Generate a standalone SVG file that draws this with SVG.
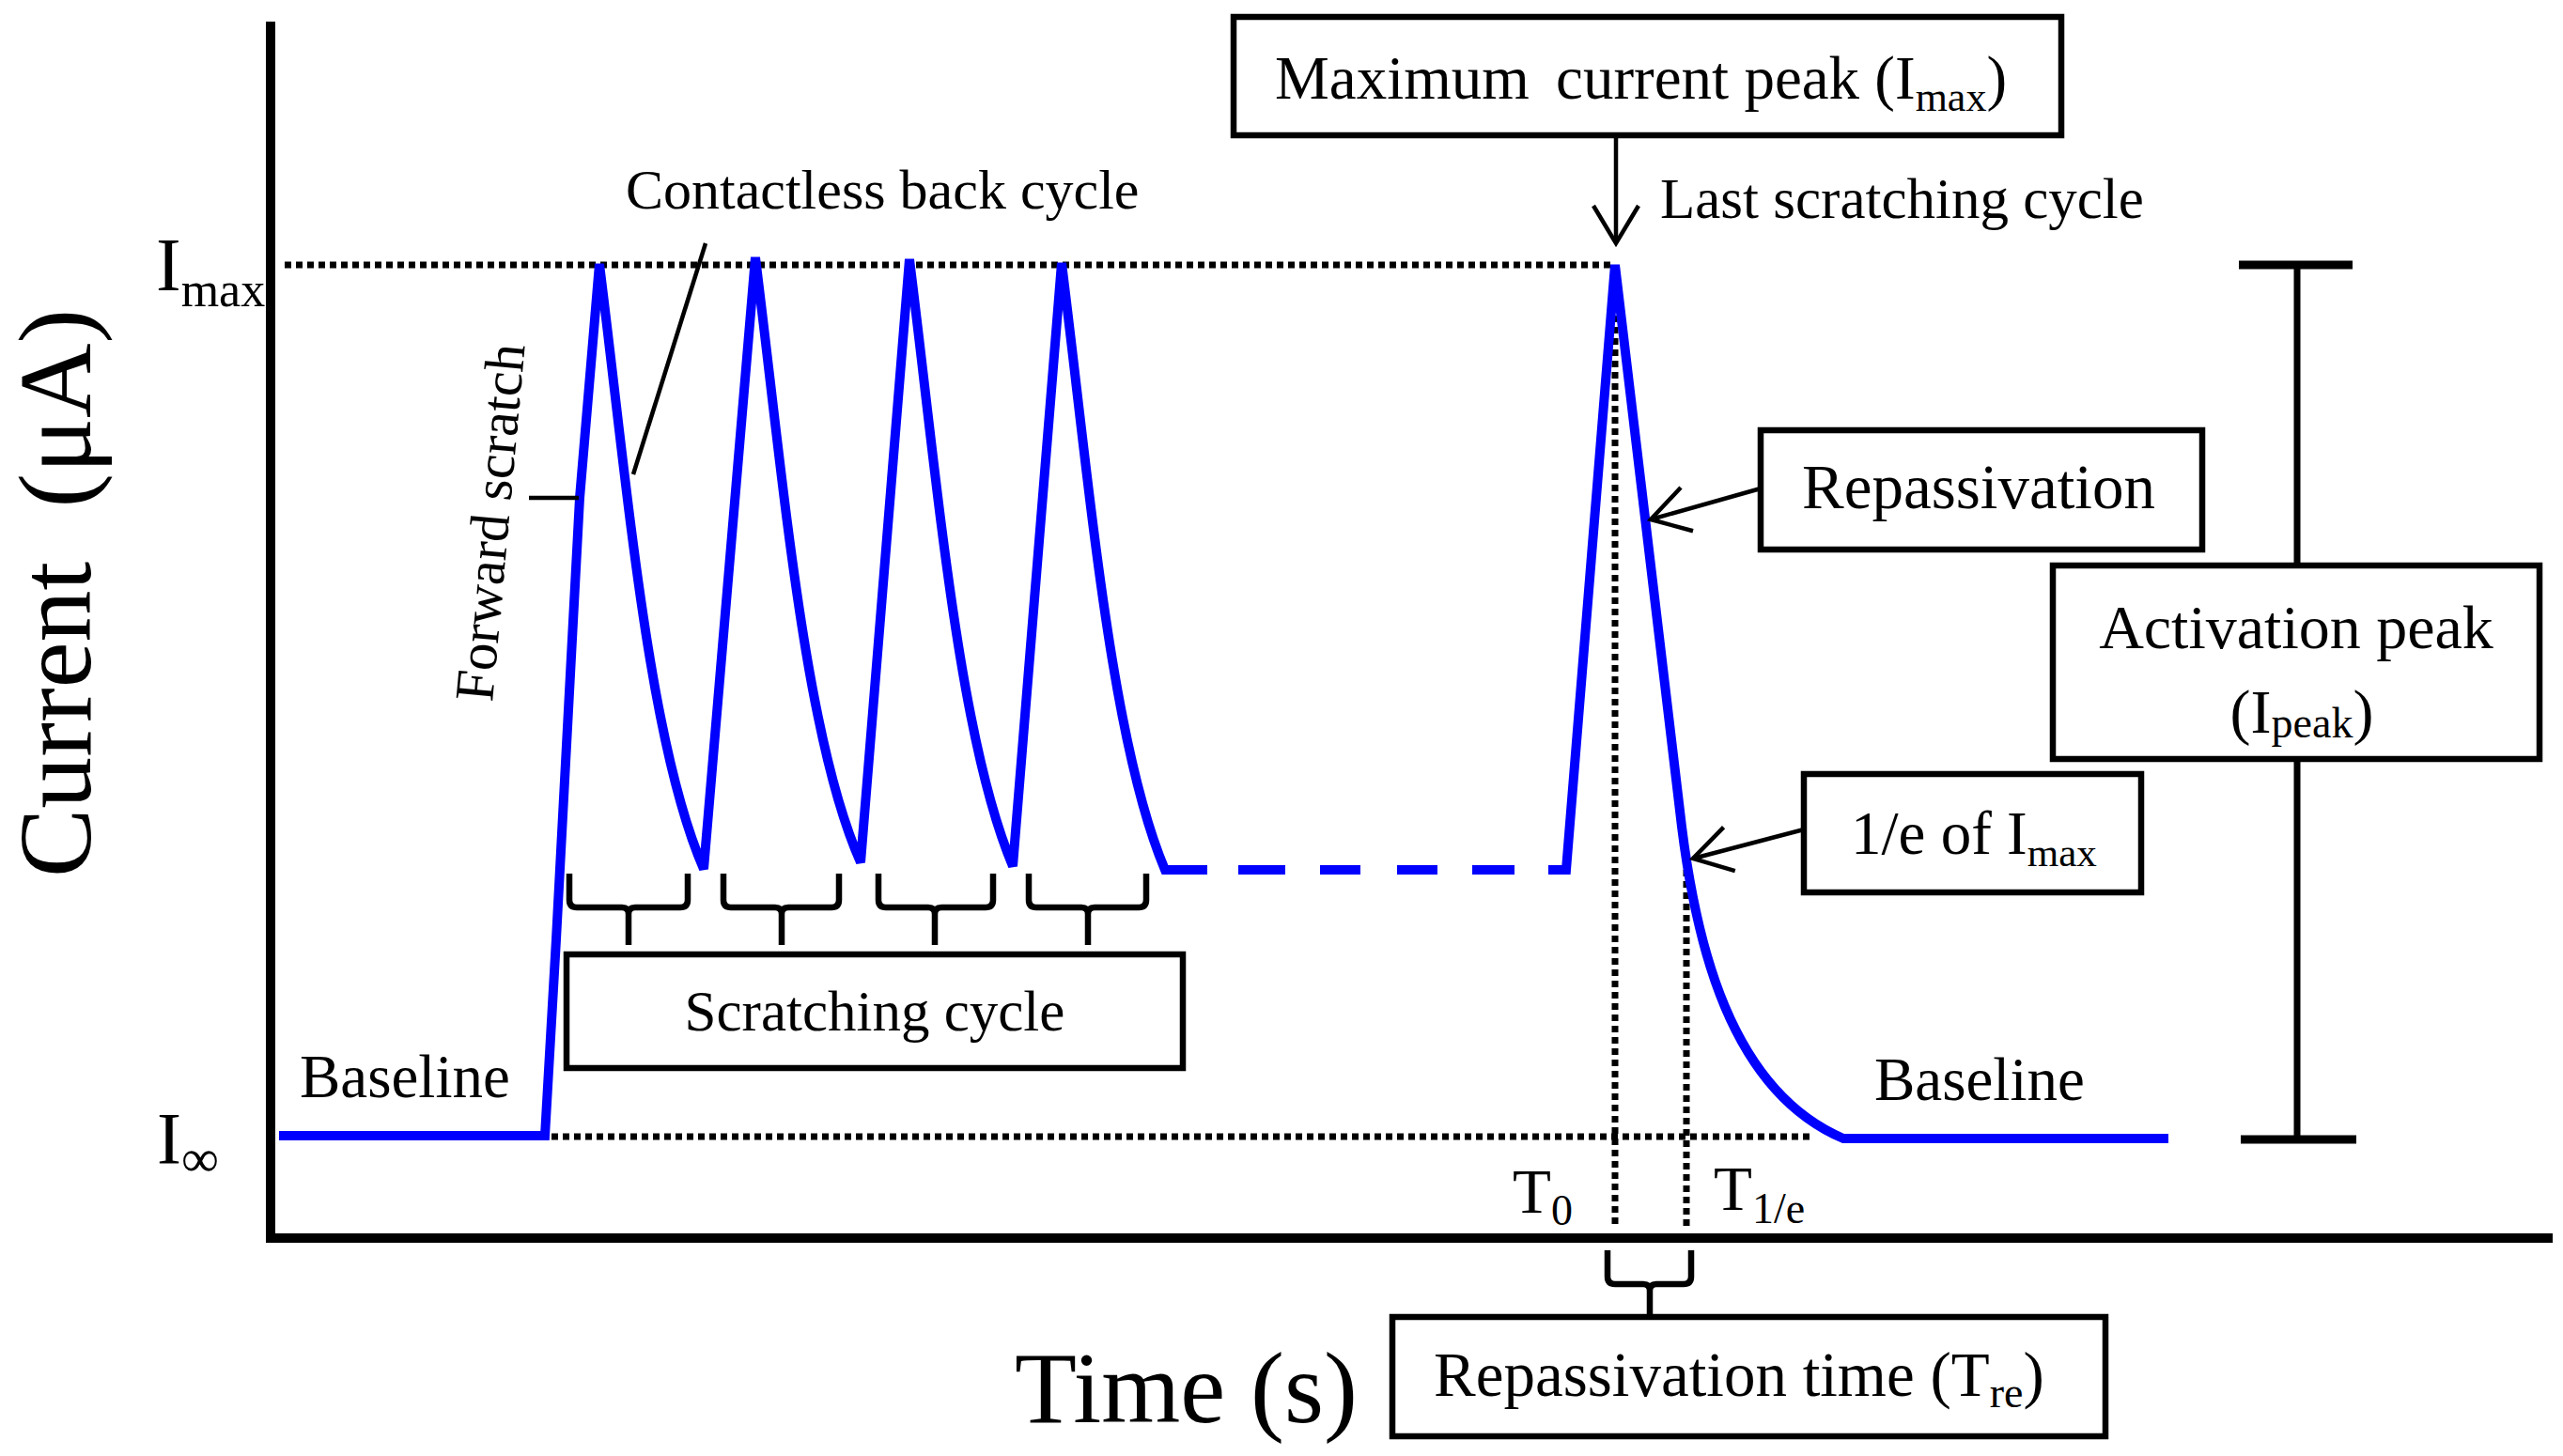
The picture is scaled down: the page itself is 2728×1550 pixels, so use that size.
<svg xmlns="http://www.w3.org/2000/svg" width="2728" height="1550" viewBox="0 0 2728 1550">
<style>
text{font-family:"Liberation Serif","Times New Roman",serif;fill:#000}
.axis{stroke:#000;stroke-width:10;fill:none;stroke-linecap:square}
.dot{stroke:#000;stroke-width:7;stroke-dasharray:7 5;fill:none}
.curve{stroke:#0000ff;stroke-width:10;fill:none}
.box{fill:#fff;stroke:#000;stroke-width:6.5}
.lead{stroke:#000;stroke-width:4.5;fill:none}
.vbar{stroke:#000;stroke-width:7;fill:none}
.brace{stroke:#000;stroke-width:6.5;fill:none;stroke-linejoin:round}
.bar{stroke:#000;stroke-width:9;fill:none}
</style>
<defs>
<marker id="openArrow" viewBox="0 0 40 48" refX="40" refY="24" markerWidth="40" markerHeight="48" markerUnits="userSpaceOnUse" orient="auto" overflow="visible">
<path d="M0,0 L40,24 L0,48" fill="none" stroke="#000" stroke-width="4.5"/>
</marker>
</defs>
<rect width="2728" height="1550" fill="#fff"/>

<g id="axes">
<line class="axis" x1="288" y1="28" x2="288" y2="1318"/>
<line class="axis" x1="288" y1="1318" x2="2712" y2="1318"/>
<text transform="translate(96,934) rotate(-90)" font-size="110">Current<tspan dx="30"> (μA)</tspan></text>
<text x="1080" y="1514" font-size="108">Time (s)</text>
<text x="166" y="309" font-size="80">I<tspan font-size="52" dy="17">max</tspan></text>
<text x="167" y="1238" font-size="78">I<tspan font-size="56" dy="14">∞</tspan></text>
</g>

<g id="guides">
<line class="dot" x1="303" y1="282" x2="1714" y2="282"/>
<line class="dot" x1="587" y1="1210" x2="1927" y2="1210"/>
<line class="dot" x1="1719" y1="288" x2="1719" y2="1307"/>
<line class="dot" x1="1795" y1="914" x2="1795" y2="1307"/>
</g>

<g id="current-trace">
<path class="curve" d="M297,1209 L580,1209 L592,1000 L617,530 L638,281 C668,520 690,790 749,925 L804,274 C834,513 856,783 916,918 L968,276 C998,515 1020,785 1078,922 L1130,280 C1160,519 1182,789 1240,926 L1285,926"/>
<path class="curve" d="M1318,926 H1368 M1405,926 H1448 M1487,926 H1530 M1567,926 H1612"/>
<path class="curve" d="M1648,926 L1667,926 L1719,282 L1790,880 C1805,1000 1840,1160 1962,1212 L2308,1212"/>
</g>

<g id="label-contactless">
<text x="666" y="222" font-size="60">Contactless back cycle</text>
</g>
<g id="label-forward">
<text transform="translate(524,748) rotate(-84.8)" font-size="59">Forward scratch</text>
</g>
<g id="label-baseline-left">
<text x="319" y="1168" font-size="65">Baseline</text>
</g>
<g id="label-baseline-right">
<text x="1995" y="1171" font-size="65">Baseline</text>
</g>
<g id="label-last-cycle">
<text x="1767" y="232" font-size="61">Last scratching cycle</text>
</g>
<g id="label-t0">
<text x="1610" y="1291" font-size="67">T<tspan font-size="46" dy="13">0</tspan></text>
</g>
<g id="label-t1e">
<text x="1824" y="1288" font-size="67">T<tspan font-size="46" dy="14">1/e</tspan></text>
</g>

<g id="node-max-current">
<rect class="box" x="1313" y="18" width="881" height="126"/>
<text x="1357" y="105" font-size="65">Maximum<tspan dx="12"> current peak (I</tspan><tspan font-size="44" dy="13">max</tspan><tspan dy="-13">)</tspan></text>
</g>

<g id="node-repassivation">
<rect class="box" x="1874" y="458" width="470" height="127"/>
<text x="1918" y="541" font-size="67">Repassivation</text>
</g>

<g id="node-one-over-e">
<rect class="box" x="1920" y="824" width="359" height="126"/>
<text x="1970" y="909" font-size="65">1/e of I<tspan font-size="43" dy="13">max</tspan></text>
</g>

<g id="node-activation">
<line class="bar" x1="2383" y1="282" x2="2504" y2="282"/>
<line class="vbar" x1="2445" y1="282" x2="2445" y2="602"/>
<line class="vbar" x1="2445" y1="808" x2="2445" y2="1213"/>
<line class="bar" x1="2385" y1="1213" x2="2508" y2="1213"/>
<rect class="box" x="2185" y="602" width="518" height="206"/>
<text x="2444" y="690" font-size="66" text-anchor="middle">Activation peak</text>
<text x="2450" y="780" font-size="66" text-anchor="middle">(I<tspan font-size="46" dy="5">peak</tspan><tspan dy="-5">)</tspan></text>
</g>

<g id="node-scratching-cycle">
<rect class="box" x="603" y="1016" width="656" height="121"/>
<text x="931" y="1097" font-size="61" text-anchor="middle">Scratching cycle</text>
</g>

<g id="node-repassivation-time">
<rect class="box" x="1482" y="1402" width="759" height="127"/>
<text x="1526" y="1486" font-size="67">Repassivation time (T<tspan font-size="46" dy="12">re</tspan><tspan dy="-12">)</tspan></text>
</g>

<g id="connectors">
<line class="lead" x1="1720" y1="144" x2="1720" y2="259" marker-end="url(#openArrow)"/>
<line class="lead" x1="1874" y1="520" x2="1757" y2="553" marker-end="url(#openArrow)"/>
<line class="lead" x1="1920" y1="883" x2="1802" y2="914" marker-end="url(#openArrow)"/>
<line class="lead" x1="751" y1="259" x2="674" y2="505"/>
<line class="lead" x1="563" y1="530" x2="616" y2="530"/>
<path class="brace" d="M606,930 V958 Q606,966 614,966 H662 Q669,966 669,973 V1006 M669,973 Q669,966 676,966 H724 Q732,966 732,958 V930"/>
<path class="brace" d="M770,930 V958 Q770,966 778,966 H825 Q832,966 832,973 V1006 M832,973 Q832,966 839,966 H885 Q893,966 893,958 V930"/>
<path class="brace" d="M935,930 V958 Q935,966 943,966 H988 Q995,966 995,973 V1006 M995,973 Q995,966 1002,966 H1049 Q1057,966 1057,958 V930"/>
<path class="brace" d="M1095,930 V958 Q1095,966 1103,966 H1151 Q1158,966 1158,973 V1006 M1158,973 Q1158,966 1165,966 H1212 Q1220,966 1220,958 V930"/>
<path class="brace" d="M1711,1331 V1359 Q1711,1367 1719,1367 H1749 Q1756,1367 1756,1374 V1402 M1756,1374 Q1756,1367 1763,1367 H1792 Q1800,1367 1800,1359 V1331"/>
</g>
</svg>
